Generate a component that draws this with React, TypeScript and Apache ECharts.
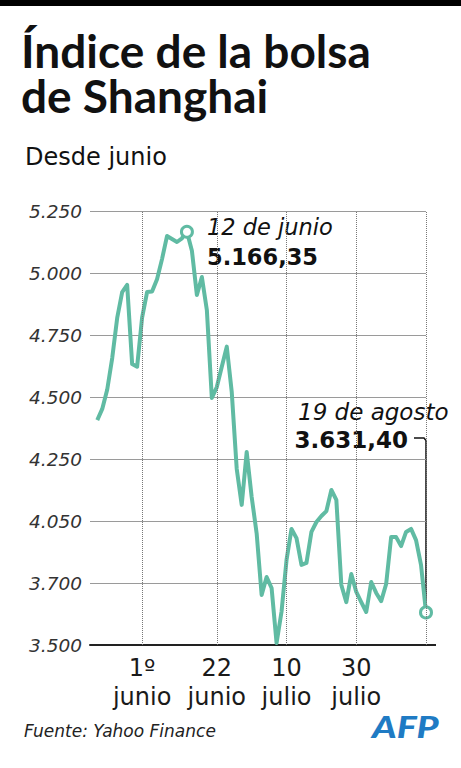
import React, { useEffect, useRef } from "react";
import * as echarts from "echarts";

// Trading days (2015), May 19 – Aug 19
const dates = [
  "19/05", "20/05", "21/05", "22/05", "25/05", "26/05", "27/05", "28/05", "29/05",
  "01/06", "02/06", "03/06", "04/06", "05/06", "08/06", "09/06", "10/06", "11/06", "12/06",
  "15/06", "16/06", "17/06", "18/06", "19/06", "22/06", "23/06", "24/06", "25/06", "26/06",
  "29/06", "30/06",
  "01/07", "02/07", "03/07", "06/07", "07/07", "08/07", "09/07", "10/07", "13/07", "14/07",
  "15/07", "16/07", "17/07", "20/07", "21/07", "22/07", "23/07", "24/07", "27/07", "28/07",
  "29/07", "30/07", "31/07",
  "03/08", "04/08", "05/08", "06/08", "07/08", "10/08", "11/08", "12/08", "13/08", "14/08",
  "17/08", "18/08", "19/08",
];

const indexValues = [
  4407, 4452, 4530, 4657, 4819, 4923, 4952, 4633, 4622,
  4820, 4923, 4925, 4975, 5056, 5149, 5137, 5125, 5140, 5166.35,
  5090, 4911, 4984, 4851, 4496, 4540, 4622, 4703, 4520, 4210,
  4065, 4278,
  4097, 3950, 3702, 3774, 3730, 3508, 3635, 3843, 3968, 3931,
  3823, 3831, 3956, 3996, 4020, 4040, 4125, 4085, 3742, 3673,
  3786, 3714, 3673,
  3633, 3754, 3710, 3677, 3746, 3935, 3935, 3899, 3956, 3968,
  3923, 3823, 3631.4,
];

// tick labels as printed in the original graphic
const yTickLabels = ["3.500", "3.700", "4.050", "4.250", "4.500", "4.750", "5.000", "5.250"];
const xTickDates = ["01/06", "22/06", "10/07", "30/07"];
const xTickLabels = ["1º\njunio", "22\njunio", "10\njulio", "30\njulio"];
const gridDates = ["01/06", "22/06", "10/07", "30/07", "19/08"];
const highlightDates = ["12/06", "19/08"];

const TEAL = "#60bba3";
const TITLE_FONT = "Lato";
const FONT = "DejaVu Sans";

export default function App() {
  const ref = useRef<HTMLDivElement>(null);
  useEffect(() => {
    if (!ref.current) return;
    const chart = echarts.init(ref.current, undefined, { renderer: "svg" });
    const seriesData = indexValues.map((v, i) => {
      const hl = highlightDates.includes(dates[i]);
      return {
        value: [i, v],
        symbol: hl ? "circle" : "none",
        symbolSize: hl ? 11 : 0,
      };
    });
    const xTickIdx = xTickDates.map((d) => dates.indexOf(d));
    const gridIdx = gridDates.map((d) => dates.indexOf(d));

    const T = (text: string, x: number, baseline: number, size: number, extra: any = {}) => ({
      type: "text",
      x,
      y: baseline - size * 0.35,
      style: {
        text,
        fontFamily: FONT,
        fontSize: size,
        fill: "#111",
        verticalAlign: "middle",
        ...extra,
      },
    });

    chart.setOption({
      animation: false,
      backgroundColor: "#fff",
      grid: { left: 90, right: 35, top: 211, bottom: 123 },
      xAxis: {
        type: "value",
        min: -1.46,
        max: dates.length - 1,
        axisLine: { show: true, onZero: false, lineStyle: { color: "#222", width: 2 } },
        axisTick: { show: false },
        splitLine: { show: false },
        axisLabel: {
          customValues: xTickIdx,
          formatter: (v: number) => {
            const k = xTickIdx.indexOf(Math.round(v));
            return k >= 0 ? xTickLabels[k] : "";
          },
          fontFamily: FONT,
          fontSize: 24,
          lineHeight: 29,
          color: "#1a1a1a",
          margin: 8,
        },
      },
      yAxis: {
        type: "value",
        min: 3500,
        max: 5250,
        interval: 250,
        axisLine: { show: false },
        axisTick: { show: false },
        splitLine: { show: true, lineStyle: { color: "#9a9a9a", width: 1.2 } },
        axisLabel: {
          formatter: (v: number) => yTickLabels[Math.round((v - 3500) / 250)] ?? "",
          fontFamily: FONT,
          fontStyle: "italic",
          fontSize: 18.5,
          color: "#333",
          margin: 8,
        },
      },
      series: [
        {
          type: "line",
          data: [],
          z: 1,
          silent: true,
          markLine: {
            silent: true,
            symbol: ["none", "none"],
            label: { show: false },
            lineStyle: { type: "dotted", color: "#777", width: 1 },
            data: gridIdx.map((i) => ({ xAxis: i })),
          },
        },
        {
          type: "line",
          z: 3,
          data: seriesData,
          showSymbol: true,
          lineStyle: { color: TEAL, width: 4, join: "round" },
          itemStyle: { color: "#fff", borderColor: TEAL, borderWidth: 3 },
          emphasis: { disabled: true },
        },
      ],
      graphic: [
        { type: "rect", shape: { x: 0, y: 0, width: 461, height: 6 }, style: { fill: "#000" } },
        {
          type: "text",
          x: 21,
          y: 28,
          style: {
            text: "Índice de la bolsa\nde Shanghai",
            fontFamily: TITLE_FONT,
            fontSize: 46,
            fontWeight: 700,
            lineHeight: 45,
            fill: "#111",
            verticalAlign: "top",
          },
        },
        T("Desde junio", 25, 165, 24),
        T("12 de junio", 207, 235, 22.5, { fontStyle: "italic" }),
        T("5.166,35", 207, 265, 22.5, { fontWeight: 700 }),
        T("19 de agosto", 298, 420, 23, { fontStyle: "italic" }),
        T("3.631,40", 408, 448, 23, { fontWeight: 700, align: "right" }),
        {
          type: "polyline",
          shape: { points: [[414, 438], [424, 438], [426, 440.5], [426, 607]] },
          style: { stroke: "#111", lineWidth: 1.5, fill: "none" },
        },
        {
          type: "line",
          shape: { x1: 425, y1: 645, x2: 436, y2: 645 },
          style: { stroke: "#222", lineWidth: 2 },
        },
        T("Fuente: Yahoo Finance", 24, 737, 17, { fontStyle: "italic", fill: "#222" }),
        {
          type: "text",
          x: 372,
          y: 737 - 30 * 0.36,
          scaleX: 1.25,
          style: {
            text: "AFP",
            fontFamily: TITLE_FONT,
            fontSize: 30,
            fontWeight: 900,
            fontStyle: "italic",
            fill: "#1f7bc4",
            verticalAlign: "middle",
          },
        },
      ],
    });
    return () => chart.dispose();
  }, []);
  return (
    <div
      ref={ref}
      style={{ position: "fixed", left: 0, top: 0, width: 461, height: 768 }}
    />
  );
}
